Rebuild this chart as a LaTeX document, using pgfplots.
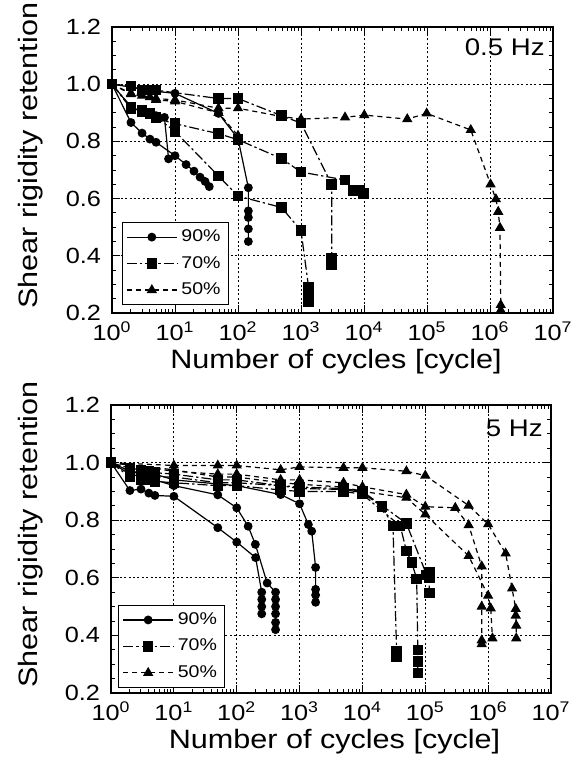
\documentclass[border=0pt]{standalone}
\usepackage{fontspec}
\setmainfont[FakeStretch=1.15]{Liberation Sans}
\usepackage{pgfplots}
\pgfplotsset{compat=1.18}

\pgfplotsset{
  s90/.style={black, line width=0.6pt, solid, mark=*, mark size=1.9pt},
  s70/.style={black, line width=0.6pt, dash pattern=on 5pt off 1.5pt on 1.2pt off 1.5pt,
              mark=square*, mark size=2.3pt, mark options={solid}},
  s50/.style={black, line width=0.6pt, dash pattern=on 2.5pt off 2pt,
              mark=triangle*, mark size=2.4pt, mark options={solid}},
  panel/.style={
    scale only axis, clip=false,
    xmin=1, xmax=1e7, ymin=0.2, ymax=1.2,
    xtick={1,10,100,1000,10000,100000,1000000,10000000},
    xticklabels={10\textsuperscript{0},10\textsuperscript{1},10\textsuperscript{2},10\textsuperscript{3},
                 10\textsuperscript{4},10\textsuperscript{5},10\textsuperscript{6},10\textsuperscript{7}},
    minor xtick={2,3,4,5,6,7,8,9,20,30,40,50,60,70,80,90,200,300,400,500,600,700,800,900,
                 2000,3000,4000,5000,6000,7000,8000,9000,20000,30000,40000,50000,60000,70000,80000,90000,
                 200000,300000,400000,500000,600000,700000,800000,900000,
                 2000000,3000000,4000000,5000000,6000000,7000000,8000000,9000000},
    ytick={0.2,0.4,0.6,0.8,1.0,1.2}, minor y tick num=3,
    xmajorgrids, ymajorgrids,
    major grid style={black, line width=0.5pt, dash pattern=on 1pt off 1.2pt},
    axis line style={line width=0.6pt},
    tick align=inside, major tick length=4pt, minor tick length=2pt,
    tick style={black, line width=0.5pt},
    yticklabel style={/pgf/number format/fixed, /pgf/number format/fixed zerofill,
                      /pgf/number format/precision=1, /pgf/number format/assume math mode=true,
                      xshift=-2pt},
    tick label style={font=\fontsize{11}{12}\selectfont},
    xticklabel style={yshift=-1pt},
    label style={font=\fontsize{13.3}{15}\selectfont},
    xlabel={Number of cycles [cycle]},
    ylabel={Shear rigidity retention},
    xlabel style={at={(axis description cs:0.508,0)}, anchor=base, yshift=-27.5pt},
    ylabel style={at={(axis description cs:-0.168,0.55)}, anchor=base},
    legend style={at={(axis description cs:0.022,0.028)}, anchor=south west, draw=black,
                  line width=0.5pt, font=\fontsize{8.5}{10}\selectfont,
                  inner xsep=2pt, inner ysep=1.5pt, row sep=1.8pt, cells={anchor=west}},
    legend image code/.code={\draw[mark repeat=2,mark phase=2]
      plot coordinates {(0cm,0cm) (0.44cm,0cm) (0.88cm,0cm)};},
  }
}

\begin{document}
\begin{tikzpicture}
\path[use as bounding box] (0,0) rectangle (286.5pt,-382.5pt);

% ---- 0.5 Hz ----
\begin{semilogxaxis}[panel, width=220.5pt, height=143pt, at={(56pt,-156.5pt)}, anchor=south west]
\addplot[s90] coordinates {(1,1.0) (2,0.866) (3,0.829) (4,0.808) (5,0.797) (10,0.75)
  (15,0.719) (20,0.696) (25,0.675) (30,0.66) (35,0.642)};
\addplot[s70] coordinates {(1,1.0) (2,0.993) (3,0.98) (4,0.979) (5,0.979) (49,0.95) (100,0.95)
  (490,0.89) (1000,0.864) (3070,0.65) (3070,0.39) (3070,0.37)};
\addplot[s50] coordinates {(1,1.0) (2,0.968) (3,0.96) (4,0.955) (5,0.95) (10,0.945) (49,0.916)
  (100,0.916) (490,0.887) (1000,0.878) (5000,0.884) (10100,0.892) (48600,0.878) (98900,0.898)
  (495000,0.84) (1020000,0.65) (1240000,0.598) (1350000,0.554) (1440000,0.498)
  (1480000,0.228) (1480000,0.21)};
\legend{90\%, 70\%, 50\%}
\addplot[s90, forget plot] coordinates {(1,1.0) (2,0.92) (3,0.905) (5,0.89) (6.8,0.884) (7.9,0.739)};
\addplot[s90, forget plot] coordinates {(1,1.0) (2,0.99) (5,0.975) (10,0.968) (49,0.898) (100,0.81)
  (146,0.638) (146,0.557) (146,0.534) (146,0.494) (146,0.45)};
\addplot[s70, forget plot] coordinates {(1,1.0) (2,0.921) (3,0.91) (4,0.9) (5,0.881) (10,0.862)
  (49,0.827) (100,0.806) (490,0.74) (1000,0.693) (5000,0.665) (6760,0.628) (8500,0.63) (9800,0.618)};
\addplot[s70, forget plot] coordinates {(1,1.0) (2,0.915) (3,0.905) (4,0.895) (5,0.885) (10,0.835)
  (49,0.679) (100,0.609) (490,0.569) (1000,0.488) (1320,0.29) (1320,0.265) (1320,0.24)};
\addplot[s50, forget plot] coordinates {(1,1.0) (2,0.965) (5,0.945) (10,0.94) (49,0.9) (100,0.82)};
\node[anchor=base east, inner sep=0pt, font=\fontsize{12}{14}\selectfont]
  at (axis description cs:0.982,0.902) {0.5 Hz};
\end{semilogxaxis}

% ---- 5 Hz ----
\begin{semilogxaxis}[panel, width=220pt, height=144pt, at={(55.5pt,-346.5pt)}, anchor=south west,
  legend style={at={(axis description cs:0.016,0.018)}}]
\addplot[s90] coordinates {(1,1.0) (2,0.903) (3,0.908) (4,0.894) (5,0.886) (10,0.883) (50,0.774)
  (100,0.724) (200,0.67) (250,0.55) (250,0.525) (250,0.5) (250,0.475)};
\addplot[s70] coordinates {(1,1.0) (2,0.97) (3,0.96) (4,0.955) (5,0.95) (10,0.95) (50,0.93)
  (100,0.93) (500,0.92) (1000,0.91) (5000,0.907) (10000,0.895) (20600,0.847) (30600,0.78)
  (35000,0.345) (35000,0.325)};
\addplot[s50] coordinates {(1,1.0) (10,0.99) (50,0.99) (100,0.99) (500,0.975) (1000,0.985)
  (5000,0.982) (10000,0.982) (50000,0.97) (100000,0.955) (490000,0.851) (1000000,0.786)
  (1900000,0.685) (2400000,0.563) (2750000,0.492) (2750000,0.469) (2800000,0.434) (2800000,0.39)};
\legend{90\%, 70\%, 50\%}
\addplot[s90, forget plot] coordinates {(1,1.0) (2,0.96) (5,0.94) (10,0.92) (50,0.888) (100,0.843)
  (152,0.779) (198,0.716) (305,0.582) (415,0.55) (415,0.525) (415,0.5) (415,0.475) (415,0.445) (415,0.42)};
\addplot[s90, forget plot] coordinates {(1,1.0) (2,0.97) (5,0.96) (10,0.94) (100,0.92) (500,0.889)
  (1000,0.857) (1380,0.785) (1560,0.762) (1800,0.636) (1800,0.56) (1800,0.54) (1800,0.515)};
\addplot[s70, forget plot] coordinates {(1,1.0) (2,0.95) (3,0.94) (4,0.94) (5,0.935) (10,0.93)
  (50,0.92) (100,0.92) (500,0.905) (1000,0.9) (5000,0.9) (10000,0.89) (40000,0.78) (50000,0.694)
  (61000,0.653) (73000,0.596) (76000,0.35) (76000,0.31) (76000,0.27)};
\addplot[s70, forget plot] coordinates {(1,1.0) (2,0.98) (3,0.975) (4,0.97) (5,0.965) (10,0.96)
  (50,0.94) (100,0.94) (500,0.92) (1000,0.915) (5000,0.91) (10000,0.9) (50000,0.789)
  (105000,0.61) (116000,0.62) (116000,0.6) (116000,0.547)};
\addplot[s50, forget plot] coordinates {(1,1.0) (10,0.97) (50,0.96) (100,0.96) (500,0.94)
  (1000,0.94) (5000,0.93) (10000,0.916) (50000,0.889) (100000,0.847) (300000,0.843)
  (490000,0.783) (790000,0.64) (790000,0.5) (790000,0.383) (790000,0.37)};
\addplot[s50, forget plot] coordinates {(1,1.0) (10,0.975) (50,0.95) (100,0.95) (500,0.93)
  (1000,0.925) (5000,0.915) (10000,0.9) (50000,0.878) (100000,0.82) (490000,0.676)
  (1000000,0.538) (1100000,0.494) (1170000,0.39)};
\node[anchor=base east, inner sep=0pt, font=\fontsize{12}{14}\selectfont]
  at (axis description cs:0.982,0.889) {5 Hz};
\end{semilogxaxis}
\end{tikzpicture}
\end{document}
